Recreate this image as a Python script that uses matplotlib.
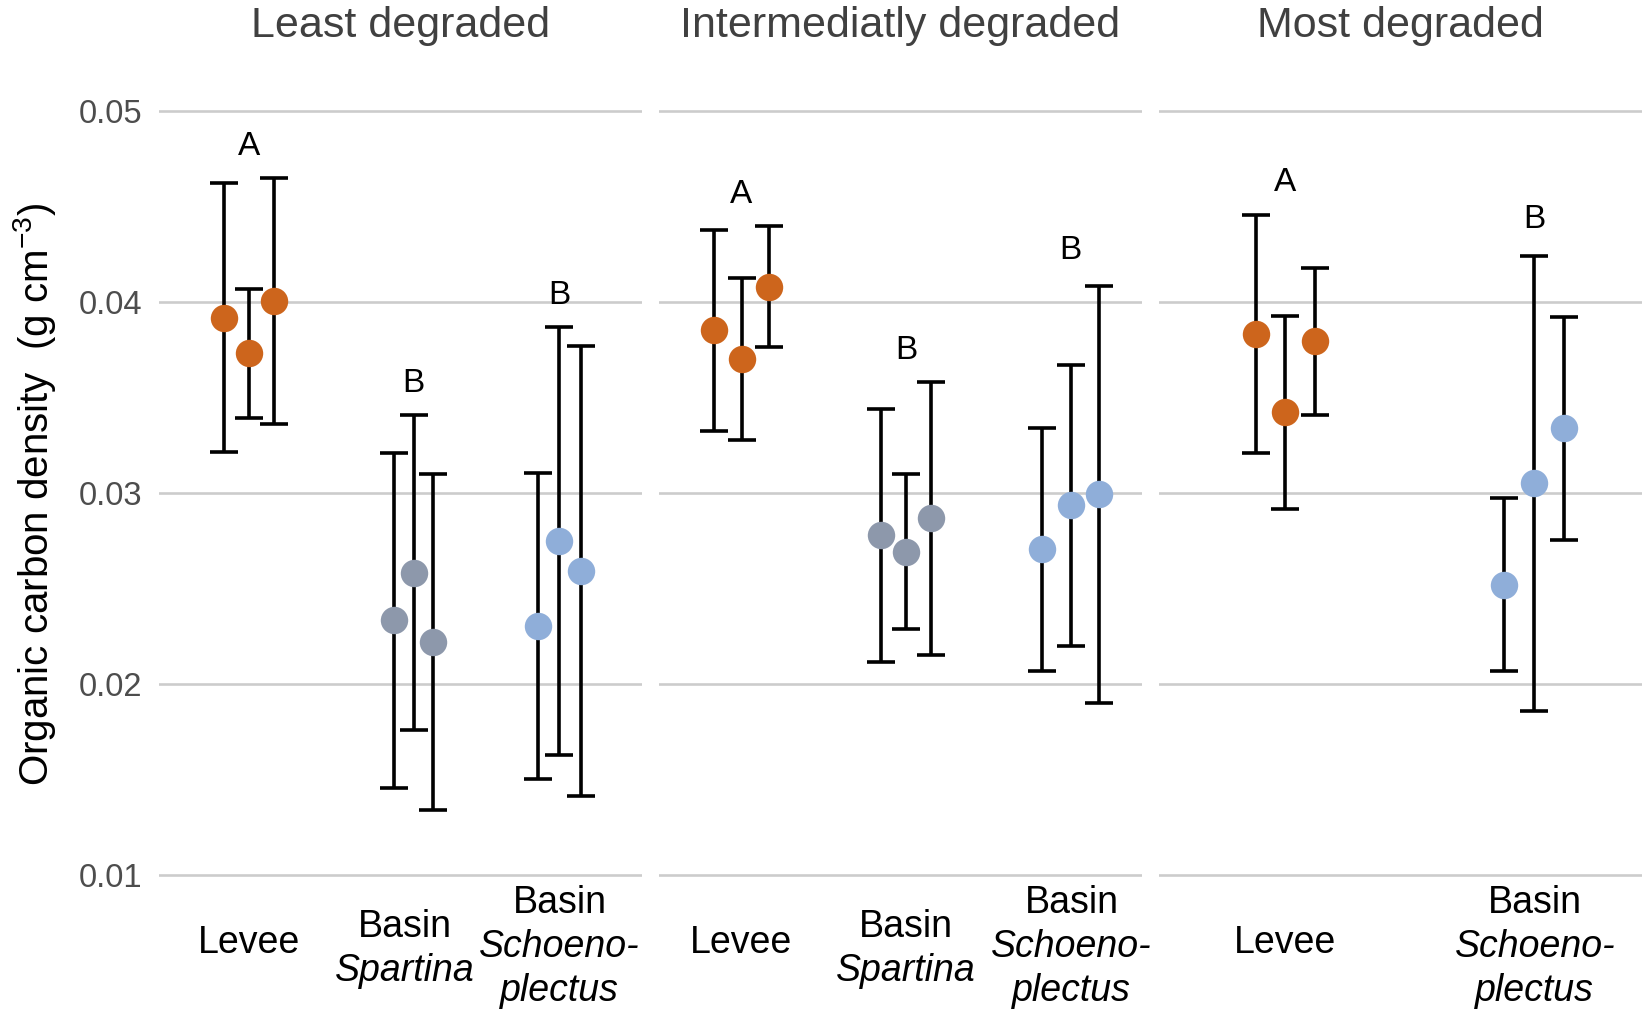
import matplotlib
matplotlib.use("Agg")
import matplotlib.pyplot as plt
from matplotlib.transforms import blended_transform_factory

plt.rcParams['font.family'] = ['Liberation Sans', 'DejaVu Sans']
plt.rcParams['mathtext.fontset'] = 'custom'
plt.rcParams['mathtext.rm'] = 'Liberation Sans'
plt.rcParams['mathtext.it'] = 'Liberation Sans:italic'

# ---------------- data ----------------
facets = ["Least degraded", "Intermediatly degraded", "Most degraded"]

# category labels per facet: list of (text line, italic?)
cat_lines = {
    "Levee": [("Levee", False)],
    "Spartina": [("Basin", False), ("Spartina", True)],
    "Schoeno": [("Basin", False), ("Schoeno-", True), ("plectus", True)],
}
facet_cats = [["Levee", "Spartina", "Schoeno"],
              ["Levee", "Spartina", "Schoeno"],
              ["Levee", "Schoeno"]]

# least degraded
ld_levee_mean = [0.03918, 0.03733, 0.04005]
ld_levee_lo = [0.03215, 0.03393, 0.03361]
ld_levee_hi = [0.04621, 0.04070, 0.04649]
ld_spart_mean = [0.02333, 0.02583, 0.02222]
ld_spart_lo = [0.01457, 0.01761, 0.01342]
ld_spart_hi = [0.03208, 0.03410, 0.03098]
ld_schoe_mean = [0.02304, 0.02749, 0.02593]
ld_schoe_lo = [0.01504, 0.01628, 0.01415]
ld_schoe_hi = [0.03105, 0.03869, 0.03770]
# intermediately degraded
id_levee_mean = [0.03852, 0.03703, 0.04080]
id_levee_lo = [0.03326, 0.03279, 0.03763]
id_levee_hi = [0.04379, 0.04126, 0.04396]
id_spart_mean = [0.02780, 0.02693, 0.02867]
id_spart_lo = [0.02117, 0.02288, 0.02150]
id_spart_hi = [0.03440, 0.03100, 0.03581]
id_schoe_mean = [0.02707, 0.02939, 0.02995]
id_schoe_lo = [0.02070, 0.02201, 0.01902]
id_schoe_hi = [0.03342, 0.03670, 0.04084]
# most degraded
md_levee_mean = [0.03831, 0.03422, 0.03794]
md_levee_lo = [0.03208, 0.02916, 0.03407]
md_levee_hi = [0.04457, 0.03927, 0.04176]
md_schoe_mean = [0.02520, 0.03052, 0.03340]
md_schoe_lo = [0.02066, 0.01860, 0.02756]
md_schoe_hi = [0.02972, 0.04241, 0.03920]

series = [
    [(ld_levee_mean, ld_levee_lo, ld_levee_hi),
     (ld_spart_mean, ld_spart_lo, ld_spart_hi),
     (ld_schoe_mean, ld_schoe_lo, ld_schoe_hi)],
    [(id_levee_mean, id_levee_lo, id_levee_hi),
     (id_spart_mean, id_spart_lo, id_spart_hi),
     (id_schoe_mean, id_schoe_lo, id_schoe_hi)],
    [(md_levee_mean, md_levee_lo, md_levee_hi),
     (md_schoe_mean, md_schoe_lo, md_schoe_hi)],
]

letters = [["A", "B", "B"], ["A", "B", "B"], ["A", "B"]]
letter_y = [[0.04815, 0.03574, 0.04035],
            [0.04564, 0.03745, 0.04269],
            [0.04628, 0.04433]]

y_ticks = [0.01, 0.02, 0.03, 0.04, 0.05]
y_ticklabels = ["0.01", "0.02", "0.03", "0.04", "0.05"]
y_label = "Organic carbon density  (g cm$^{-3}$)"

# ---------------- layout / style ----------------
colors = {"Levee": "#CD651C", "Spartina": "#8D98AB", "Schoeno": "#8FAED9"}
cat_x = [[0.187, 0.528, 0.830], [0.171, 0.512, 0.853], [0.262, 0.777]]
dodge = [[0.052, 0.040, 0.044], [0.057, 0.051, 0.059], [0.0615, 0.062]]
label_x = [[0.187, 0.510, 0.830], [0.170, 0.512, 0.855], [0.262, 0.779]]

W, H = 1648, 1016
fig = plt.figure(figsize=(W / 100, H / 100), dpi=100)

ylim = (0.008, 0.051)
px_per_unit = (875 - 111) / 0.04
top_px = 111 - (ylim[1] - 0.05) * px_per_unit
bot_px = 875 + (0.01 - ylim[0]) * px_per_unit
panel_left = [159, 659, 1159]
panel_w = 482.5

for i, facet in enumerate(facets):
    ax = fig.add_axes([panel_left[i] / W, 1 - bot_px / H, panel_w / W, (bot_px - top_px) / H])
    ax.set_xlim(0, 1)
    ax.set_ylim(*ylim)
    for s in ax.spines.values():
        s.set_visible(False)
    ax.set_yticks(y_ticks)
    ax.set_xticks([])
    ax.yaxis.grid(True, color="#CCCCCC", linewidth=1.9)
    ax.set_axisbelow(True)
    if i == 0:
        ax.set_yticklabels(y_ticklabels)
        ax.tick_params(axis="y", length=0, pad=12, labelsize=23.5, labelcolor="#4D4D4D")
    else:
        ax.tick_params(axis="y", length=0, labelleft=False)

    for j, cat in enumerate(facet_cats[i]):
        mean, lo, hi = series[i][j]
        xs = [cat_x[i][j] + (k - 1) * dodge[i][j] for k in range(len(mean))]
        yerr = [[m - l for m, l in zip(mean, lo)], [h - m for m, h in zip(mean, hi)]]
        ax.errorbar(xs, mean, yerr=yerr, fmt="none", ecolor="black",
                    elinewidth=2.6, capsize=10, capthick=2.6, zorder=2)
        ax.scatter(xs, mean, s=390, color=colors[cat], linewidths=0, zorder=3)
        ax.text(cat_x[i][j], letter_y[i][j], letters[i][j], ha="center", va="center",
                fontsize=24, color="black")

        # category labels
        lines = cat_lines[cat]
        n = len(lines)
        center = {1: 943, 2: 949, 3: 947}[n]
        tr = blended_transform_factory(ax.transAxes, fig.transFigure)
        for k, (txt, ital) in enumerate(lines):
            ypx = center + (k - (n - 1) / 2) * 44
            ax.text(label_x[i][j], 1 - ypx / H, txt, transform=tr, ha="center", va="center",
                    fontsize=27, fontstyle="italic" if ital else "normal", color="black",
                    clip_on=False)

    fig.text((panel_left[i] + panel_w / 2) / W, 1 - 37 / H, facet, ha="center",
             va="baseline", fontsize=31, color="#404040")

fig.text(35 / W, 1 - 494 / H, y_label, rotation=90, ha="center", va="center",
         fontsize=29, color="black")

fig.savefig("out.png", dpi=100, facecolor="white")
